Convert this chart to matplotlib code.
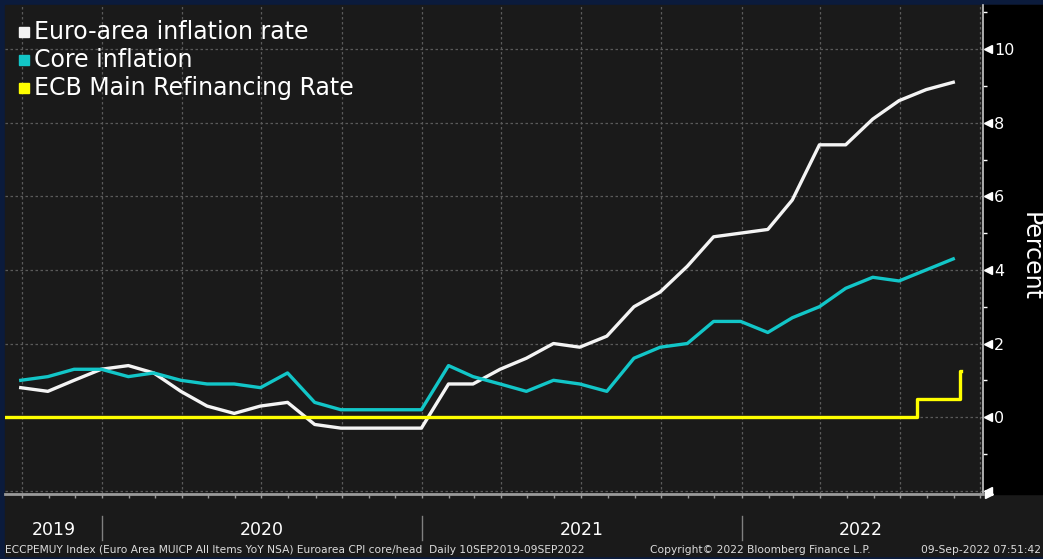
import numpy as np
import pandas as pd
import matplotlib
matplotlib.use('Agg')
import matplotlib.pyplot as plt
import matplotlib.dates as mdates
from matplotlib.patches import Rectangle
from matplotlib.ticker import MultipleLocator

# monthly data (month-end), Sep 2019 - Aug 2022
months = pd.date_range('2019-09-30', '2022-08-31', freq='ME')
headline = [0.8, 0.7, 1.0, 1.3, 1.4, 1.2, 0.7, 0.3, 0.1, 0.3, 0.4, -0.2,
            -0.3, -0.3, -0.3, -0.3, 0.9, 0.9, 1.3, 1.6, 2.0, 1.9, 2.2, 3.0,
            3.4, 4.1, 4.9, 5.0, 5.1, 5.9, 7.4, 7.4, 8.1, 8.6, 8.9, 9.1]
core = [1.0, 1.1, 1.3, 1.3, 1.1, 1.2, 1.0, 0.9, 0.9, 0.8, 1.2, 0.4,
        0.2, 0.2, 0.2, 0.2, 1.4, 1.1, 0.9, 0.7, 1.0, 0.9, 0.7, 1.6,
        1.9, 2.0, 2.6, 2.6, 2.3, 2.7, 3.0, 3.5, 3.8, 3.7, 4.0, 4.3]

# ECB main refinancing rate (daily series, step changes)
ecb_dates = pd.to_datetime(['2019-09-10', '2022-07-20', '2022-09-08', '2022-09-09'])
ecb_rate = [0.0, 0.5, 1.25, 1.25]

labels = ['Euro-area inflation rate', 'Core inflation', 'ECB Main Refinancing Rate']
colors = ['#f4f4f4', '#12c6c8', '#ffff00']
years = [2019, 2020, 2021, 2022]

W, H = 1043, 559
NAVY = '#0b1b3c'
BG = '#1a1a1a'

def fx(x):
    return x / W

def fy(y):
    return 1 - y / H

fig = plt.figure(figsize=(W / 100, H / 100), dpi=100, facecolor=NAVY)
fig.add_artist(Rectangle((fx(5), fy(556)), fx(1043 - 5), (556 - 5) / H,
                         transform=fig.transFigure, color=BG, zorder=0))
fig.add_artist(Rectangle((fx(983), fy(494)), fx(60), (494 - 5) / H,
                         transform=fig.transFigure, color='black', zorder=0))

ax = fig.add_axes([fx(5), fy(494), fx(983 - 5), (494 - 5) / H])
ax.set_facecolor(BG)

ax.plot(months, headline, color=colors[0], lw=2.4, zorder=3)
ax.plot(months, core, color=colors[1], lw=2.4, zorder=3)
ax.plot(ecb_dates, ecb_rate, color=colors[2], lw=2.4, drawstyle='steps-post', zorder=4)

xmin, xmax = pd.Timestamp('2019-09-12'), pd.Timestamp('2022-10-04')
ax.set_xlim(xmin, xmax)
ax.set_ylim(-2.09, 11.2)

# x axis: quarterly grid, monthly ticks, no labels
ax.xaxis.set_major_locator(mdates.MonthLocator(bymonth=[1, 4, 7, 10]))
ax.xaxis.set_minor_locator(mdates.MonthLocator())
ax.tick_params(axis='x', which='both', length=3, width=1, color='#9a9a9a',
               labelbottom=False, direction='out')

# y axis on right
ax.yaxis.tick_right()
yt = list(range(-2, 11, 2))
ax.set_yticks(yt)
ax.set_yticklabels([''] + [str(v) for v in yt[1:]])
ax.yaxis.set_minor_locator(MultipleLocator(2, offset=1))
ax.tick_params(axis='y', which='major', length=0, pad=8, labelsize=11.5,
               labelcolor='white')
ax.tick_params(axis='y', which='minor', length=3, width=1, color='white',
               direction='out')
ax.plot([1.0055] * len(yt), yt, ls='none', marker='<', ms=5.5, color='white',
        transform=ax.get_yaxis_transform(), clip_on=False)
ax.plot([1.0065], [0], ls='none', marker='>', ms=5.5, color='white',
        transform=ax.transAxes, clip_on=False)

ax.grid(True, which='major', color='#5a5a5a', ls=(0, (2, 2)), lw=0.9)
ax.set_axisbelow(True)

for s in ['top', 'left']:
    ax.spines[s].set_visible(False)
ax.spines['right'].set_color('#c8c8c8')
ax.spines['right'].set_linewidth(1.2)
ax.spines['bottom'].set_color('#9a9a9a')
ax.spines['bottom'].set_linewidth(2)

fig.text(fx(1031), fy(256), 'Percent', rotation=270, color='white',
         fontsize=17, ha='center', va='center')

# legend
for i, (lab, c) in enumerate(zip(labels, colors)):
    yc = 32 + 28 * i
    fig.add_artist(Rectangle((fx(19), fy(yc + 5)), fx(10), 10 / H,
                             transform=fig.transFigure, color=c, zorder=5))
    fig.text(fx(34), fy(yc), lab, color='white', fontsize=17,
             ha='left', va='center', zorder=5)

# year labels and separators
xt = ax.get_xaxis_transform()
ylab = (494 - 530) / (494 - 5)
for yr in years:
    a = max(mdates.date2num(pd.Timestamp(f'{yr}-01-01')), mdates.date2num(xmin))
    b = min(mdates.date2num(pd.Timestamp(f'{yr + 1}-01-01')), mdates.date2num(pd.Timestamp('2022-10-01')))
    ax.text((a + b) / 2, ylab, str(yr), transform=xt, color='white',
            fontsize=12.5, ha='center', va='center')
    if yr > 2019:
        d = pd.Timestamp(f'{yr}-01-01')
        ax.plot([d, d], [(494 - 516) / 489, (494 - 540) / 489], color='#808080',
                lw=1, transform=xt, clip_on=False)

# footer
fcol = '#dcdcdc'
fig.text(fx(5), fy(550),
         'ECCPEMUY Index (Euro Area MUICP All Items YoY NSA) Euroarea CPI core/head  Daily 10SEP2019-09SEP2022',
         color=fcol, fontsize=7.7, ha='left', va='center')
fig.text(fx(650), fy(550), 'Copyright\u00a9 2022 Bloomberg Finance L.P.',
         color=fcol, fontsize=7.7, ha='left', va='center')
fig.text(fx(1041), fy(550), '09-Sep-2022 07:51:42',
         color=fcol, fontsize=7.7, ha='right', va='center')

fig.savefig('out.png', dpi=100, facecolor=NAVY)
